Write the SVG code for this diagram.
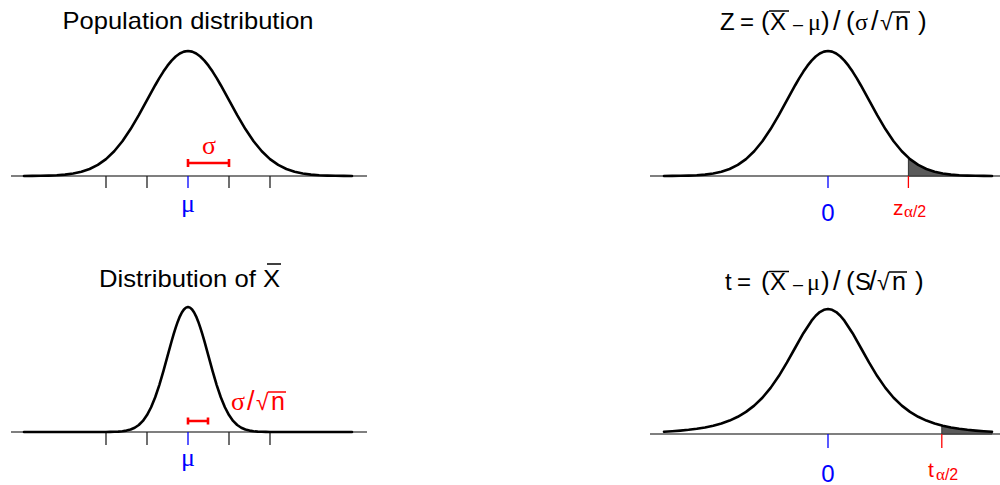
<svg xmlns="http://www.w3.org/2000/svg" xmlns:xlink="http://www.w3.org/1999/xlink" width="1000" height="485" viewBox="0 0 1000 485">
<style>
.axis{stroke:#555;stroke-width:1.6;fill:none}
.tick{stroke:#222;stroke-width:1.3}
.tb{stroke:#0000ff;stroke-width:1.3}
.tr{stroke:#ff0000;stroke-width:1.3}
.curve{fill:none;stroke:#000;stroke-width:2.6;stroke-linejoin:round;stroke-linecap:round}
.shade{fill:#5a5a5a;stroke:#333;stroke-width:1}
.bar{stroke:#ff0000;stroke-width:2.6;fill:none}
.sans{font-family:"Liberation Sans",Arial,Helvetica,sans-serif}
.serif{font-family:"Liberation Serif","Times New Roman",serif}
.title{font-size:24px;fill:#000}
.red{fill:#ff0000}
.blue{fill:#0000ff}
.ol{stroke:#000;stroke-width:1.5}
.olr{stroke:#ff0000;stroke-width:1.5}
</style>
<defs>
<path id="norm" d="M-164,-0.04 L-155.8,-0.09 L-147.6,-0.19 L-139.4,-0.39 L-131.2,-0.75 L-123,-1.39 L-114.8,-2.48 L-106.6,-4.26 L-98.4,-7.02 L-90.2,-11.12 L-82,-16.92 L-73.8,-24.74 L-65.6,-34.76 L-57.4,-46.91 L-49.2,-60.84 L-41,-75.82 L-32.8,-90.77 L-28.7,-97.84 L-24.6,-104.41 L-20.5,-110.31 L-16.4,-115.39 L-12.3,-119.5 L-8.2,-122.52 L-4.1,-124.38 L0,-125 L4.1,-124.38 L8.2,-122.52 L12.3,-119.5 L16.4,-115.39 L20.5,-110.31 L24.6,-104.41 L28.7,-97.84 L32.8,-90.77 L41,-75.82 L49.2,-60.84 L57.4,-46.91 L65.6,-34.76 L73.8,-24.74 L82,-16.92 L90.2,-11.12 L98.4,-7.02 L106.6,-4.26 L114.8,-2.48 L123,-1.39 L131.2,-0.75 L139.4,-0.39 L147.6,-0.19 L155.8,-0.09 L164,-0.04"/>
</defs>

<g id="panel-population">
<text class="sans title" x="188" y="29" text-anchor="middle" textLength="251" lengthAdjust="spacingAndGlyphs">Population distribution</text>
<line class="axis" x1="11" y1="176" x2="367" y2="176"/>
<line class="tick" x1="106" y1="176" x2="106" y2="188"/>
<line class="tick" x1="147" y1="176" x2="147" y2="188"/>
<line class="tb" x1="188" y1="176" x2="188" y2="188"/>
<line class="tick" x1="229" y1="176" x2="229" y2="188"/>
<line class="tick" x1="270" y1="176" x2="270" y2="188"/>
<use xlink:href="#norm" class="curve" transform="translate(188,176)"/>
<path class="bar" d="M188,163 H229 M188,159 V167 M229,159 V167"/>
<text class="serif red" x="209" y="154" font-size="26" text-anchor="middle">σ</text>
<text class="serif blue" x="188" y="212" font-size="26" text-anchor="middle">μ</text>
</g>

<g id="panel-z">
<text class="sans title" y="30"><tspan x="720">Z</tspan><tspan x="740">=</tspan><tspan x="761" font-size="26">(</tspan><tspan x="770">X</tspan><tspan x="793" font-size="18">–</tspan><tspan x="808" class="serif">μ</tspan><tspan x="821" font-size="26">)</tspan><tspan x="833" font-size="27">/</tspan><tspan x="846" font-size="26">(</tspan><tspan x="855" class="serif">σ</tspan><tspan x="871" font-size="27">/</tspan><tspan x="880" font-size="23">√</tspan><tspan x="895" font-size="25">n</tspan><tspan x="918" font-size="26">)</tspan></text>
<line class="ol" x1="769" y1="11" x2="789" y2="11"/>
<line class="ol" x1="892" y1="12" x2="910" y2="12"/>
<line class="axis" x1="650" y1="176" x2="1000" y2="176"/>
<path class="shade" d="M908.4,176 L908.4,157.69 L910,159.08 L918.2,164.88 L926.4,168.98 L934.6,171.74 L942.8,173.52 L951,174.61 L959.2,175.25 L967.4,175.61 L975.6,175.81 L983.8,175.91 L992,175.96 L992,176 Z"/>
<use xlink:href="#norm" class="curve" transform="translate(828,176)"/>
<line class="tb" x1="828" y1="176" x2="828" y2="188"/>
<line class="tr" x1="908.4" y1="176" x2="908.4" y2="188"/>
<text class="sans blue" x="828" y="221" font-size="24" text-anchor="middle">0</text>
<text class="red" y="215"><tspan class="sans" x="893" font-size="21">z</tspan><tspan class="serif" x="904" y="217" font-size="17">α</tspan><tspan class="sans" font-size="16">/2</tspan></text>
</g>

<g id="panel-xbar">
<text class="sans title" x="99" y="287" textLength="181" lengthAdjust="spacingAndGlyphs">Distribution of X</text>
<line class="ol" x1="267" y1="264" x2="281" y2="264"/>
<line class="axis" x1="11" y1="432" x2="367" y2="432"/>
<line class="tick" x1="106" y1="432" x2="106" y2="445"/>
<line class="tick" x1="147" y1="432" x2="147" y2="445"/>
<line class="tb" x1="188" y1="432" x2="188" y2="445"/>
<line class="tick" x1="229" y1="432" x2="229" y2="445"/>
<line class="tick" x1="270" y1="432" x2="270" y2="445"/>
<path class="curve" transform="translate(188,432)" d="M-164,-0.04 L-82,-0.04 L-77.9,-0.09 L-73.8,-0.19 L-69.7,-0.39 L-65.6,-0.75 L-61.5,-1.39 L-57.4,-2.48 L-53.3,-4.26 L-49.2,-7.02 L-45.1,-11.12 L-41,-16.92 L-36.9,-24.74 L-32.8,-34.76 L-28.7,-46.91 L-24.6,-60.84 L-20.5,-75.82 L-16.4,-90.77 L-14.35,-97.84 L-12.3,-104.41 L-10.25,-110.31 L-8.2,-115.39 L-6.15,-119.5 L-4.1,-122.52 L-2.05,-124.38 L0,-125 L2.05,-124.38 L4.1,-122.52 L6.15,-119.5 L8.2,-115.39 L10.25,-110.31 L12.3,-104.41 L14.35,-97.84 L16.4,-90.77 L20.5,-75.82 L24.6,-60.84 L28.7,-46.91 L32.8,-34.76 L36.9,-24.74 L41,-16.92 L45.1,-11.12 L49.2,-7.02 L53.3,-4.26 L57.4,-2.48 L61.5,-1.39 L65.6,-0.75 L69.7,-0.39 L73.8,-0.19 L77.9,-0.09 L82,-0.04 L164,-0.04"/>
<path class="bar" d="M188,421 H208 M188,417.5 V424.5 M208,417.5 V424.5"/>
<text class="red" y="410" font-size="24"><tspan class="serif" x="231" font-size="26">σ</tspan><tspan class="sans" x="247" font-size="27">/</tspan><tspan class="sans" x="256" font-size="23">√</tspan><tspan class="sans" x="271" font-size="25">n</tspan></text>
<line class="olr" x1="268" y1="392" x2="286" y2="392"/>
<text class="serif blue" x="188" y="466" font-size="26" text-anchor="middle">μ</text>
</g>

<g id="panel-t">
<text class="sans title" y="290"><tspan x="725">t</tspan><tspan x="737">=</tspan><tspan x="761" font-size="26">(</tspan><tspan x="770">X</tspan><tspan x="793" font-size="18">–</tspan><tspan x="807" class="serif">μ</tspan><tspan x="821" font-size="26">)</tspan><tspan x="833" font-size="27">/</tspan><tspan x="846" font-size="26">(</tspan><tspan x="855">S</tspan><tspan x="869" font-size="27">/</tspan><tspan x="877" font-size="23">√</tspan><tspan x="892" font-size="25">n</tspan><tspan x="915" font-size="26">)</tspan></text>
<line class="ol" x1="769" y1="271.5" x2="789" y2="271.5"/>
<line class="ol" x1="889" y1="272" x2="907" y2="272"/>
<line class="axis" x1="650" y1="434" x2="1000" y2="434"/>
<path class="shade" d="M941.8,434 L941.8,425.47 L942.8,425.71 L951,427.44 L959.2,428.77 L967.4,429.81 L975.6,430.62 L983.8,431.26 L992,431.76 L992,434 Z"/>
<path class="curve" transform="translate(828,434)" d="M-164,-2.24 L-155.8,-2.74 L-147.6,-3.38 L-139.4,-4.19 L-131.2,-5.23 L-123,-6.56 L-114.8,-8.29 L-106.6,-10.53 L-98.4,-13.44 L-90.2,-17.22 L-82,-22.10 L-73.8,-28.36 L-65.6,-36.29 L-57.4,-46.13 L-49.2,-57.95 L-41,-71.55 L-32.8,-86.25 L-24.6,-100.77 L-16.4,-113.33 L-12.3,-118.24 L-8.2,-121.93 L-4.1,-124.22 L0,-125 L4.1,-124.22 L8.2,-121.93 L12.3,-118.24 L16.4,-113.33 L24.6,-100.77 L32.8,-86.25 L41,-71.55 L49.2,-57.95 L57.4,-46.13 L65.6,-36.29 L73.8,-28.36 L82,-22.10 L90.2,-17.22 L98.4,-13.44 L106.6,-10.53 L114.8,-8.29 L123,-6.56 L131.2,-5.23 L139.4,-4.19 L147.6,-3.38 L155.8,-2.74 L164,-2.24"/>
<line class="tb" x1="828" y1="434" x2="828" y2="448"/>
<line class="tr" x1="941.8" y1="434" x2="941.8" y2="448"/>
<text class="sans blue" x="828" y="482" font-size="24" text-anchor="middle">0</text>
<text class="red" y="477"><tspan class="sans" x="928" font-size="21">t</tspan><tspan class="serif" x="936" y="480" font-size="17">α</tspan><tspan class="sans" font-size="16">/2</tspan></text>
</g>
</svg>
